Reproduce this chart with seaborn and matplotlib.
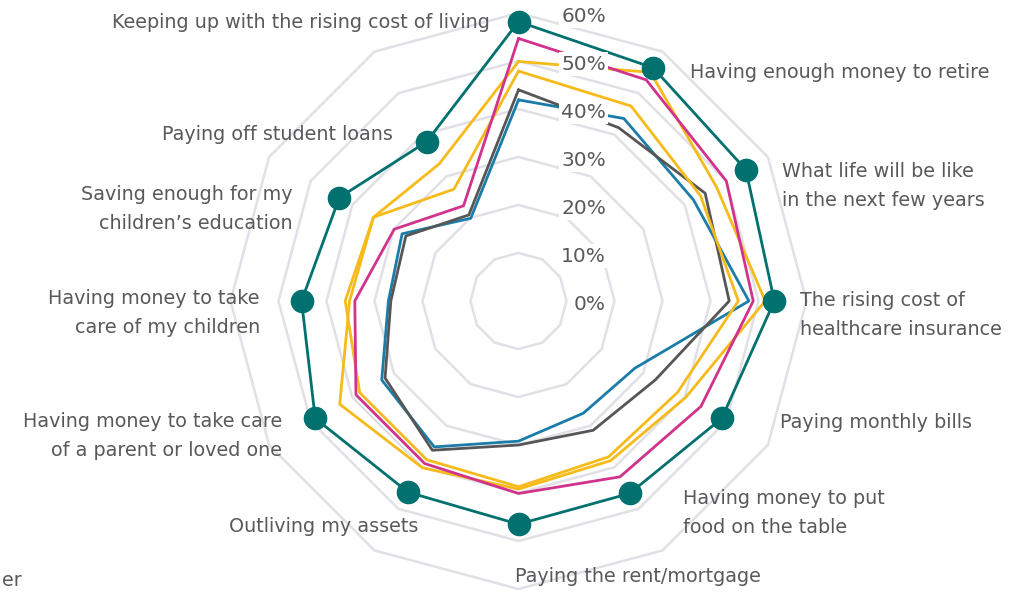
import matplotlib
matplotlib.use("Agg")
import matplotlib.pyplot as plt
from matplotlib.transforms import offset_copy
import numpy as np
import pandas as pd
import seaborn as sns

# Categories, clockwise from the top
categories = [
    "Keeping up with the rising cost of living",
    "Having enough money to retire",
    "What life will be like\nin the next few years",
    "The rising cost of\nhealthcare insurance",
    "Paying monthly bills",
    "Having money to put\nfood on the table",
    "Paying the rent/mortgage",
    "Outliving my assets",
    "Having money to take care\nof a parent or loved one",
    "Having money to take\ncare of my children",
    "Saving enough for my\nchildren\u2019s education",
    "Paying off student loans",
]

# Series values (%)
teal = [58.2, 56.1, 54.7, 53.3, 48.9, 46.3, 46.5, 46.0, 48.9, 45.2, 43.1, 38.3]
magenta = [54.7, 53.2, 50.0, 48.9, 43.9, 42.3, 40.1, 39.1, 39.1, 34.1, 29.9, 22.9]
yellow_a = [49.9, 55.0, 47.6, 51.4, 40.2, 38.4, 39.2, 40.1, 43.0, 35.2, 34.9, 33.0]
yellow_b = [47.9, 46.9, 43.8, 45.8, 38.2, 37.5, 38.7, 38.2, 38.2, 36.1, 34.9, 26.9]
grey = [44.0, 41.7, 44.9, 43.9, 32.9, 31.1, 30.0, 35.9, 32.1, 26.6, 27.1, 20.7]
blue = [41.9, 43.9, 42.1, 48.0, 28.0, 27.0, 29.2, 35.1, 32.9, 27.1, 28.0, 19.9]

series = {"blue": blue, "grey": grey, "yellow_b": yellow_b,
          "yellow_a": yellow_a, "magenta": magenta, "teal": teal}
palette = {"teal": "#00716F", "magenta": "#D1338C", "yellow_a": "#F6BA1A",
           "yellow_b": "#F6BA1A", "grey": "#565656", "blue": "#1A7CA8"}

ring_levels = [10, 20, 30, 40, 50, 60]
tick_labels = ["0%", "10%", "20%", "30%", "40%", "50%", "60%"]

angles = np.deg2rad(np.arange(len(categories)) * 30.0)
closed = np.append(angles, 2 * np.pi)

rows = []
for name, vals in series.items():
    for th, v in zip(closed, vals + vals[:1]):
        rows.append({"series": name, "theta": th, "value": v})
df = pd.DataFrame(rows)

sns.set_theme(style="white")
plt.rcParams["font.family"] = ["DejaVu Sans"]
text_color = "#58595B"

W, H = 1027, 592
cx, cy, R = 518.5, 301.0, 288.0
fig = plt.figure(figsize=(W / 100, H / 100), dpi=100)
ax = fig.add_axes([(cx - R) / W, (H - cy - R) / H, 2 * R / W, 2 * R / H],
                  projection="polar")
ax.set_theta_zero_location("N")
ax.set_theta_direction(-1)
ax.set_ylim(0, 60)
ax.grid(False)
ax.spines["polar"].set_visible(False)
ax.set_xticks([])
ax.set_yticks([])
ax.patch.set_alpha(0)

# polygon grid
for lv in ring_levels:
    ax.plot(closed, [lv] * len(closed), color="#E0E0E6", lw=1.8, zorder=1,
            clip_on=False)

sns.lineplot(data=df, x="theta", y="value", hue="series", palette=palette,
             sort=False, estimator=None, lw=2, legend=False, ax=ax, zorder=3)
for line in ax.lines[len(ring_levels):]:
    line.set_clip_on(False)

ax.plot(angles, teal, "o", color=palette["teal"], ms=16, zorder=4,
        clip_on=False)
ax.set_xlabel("")
ax.set_ylabel("")

# radial tick labels with white boxes
tr = offset_copy(ax.transData, fig=fig, x=87.5, y=-3, units="dots")
for i, lab in enumerate(tick_labels):
    ax.text(0, i * 10, lab, transform=tr, ha="right", va="center",
            fontsize=14.5, color=text_color, zorder=6,
            bbox=dict(fc="white", ec="none", pad=1.5))

# category labels (pixel anchors, ha)
label_pos = [
    (490, 22, "right"), (690, 72, "left"), (782, 186, "left"),
    (800, 315, "left"), (780, 422, "left"), (683, 513, "left"),
    (515, 577, "left"), (418, 527, "right"), (282, 436, "right"),
    (260, 313, "right"), (293, 209, "right"), (393, 134, "right"),
]
for lab, (x, y, ha) in zip(categories, label_pos):
    fig.text(x / W, 1 - y / H, lab, ha=ha, va="center", multialignment=ha,
             fontsize=13.8, color=text_color, linespacing=1.65, zorder=6)

# remnant of a legend entry at the lower-left edge
fig.text(2 / W, 1 - 580 / H, "er", ha="left", va="center", fontsize=13.8,
         color=text_color)

fig.savefig("out.png", dpi=100)
